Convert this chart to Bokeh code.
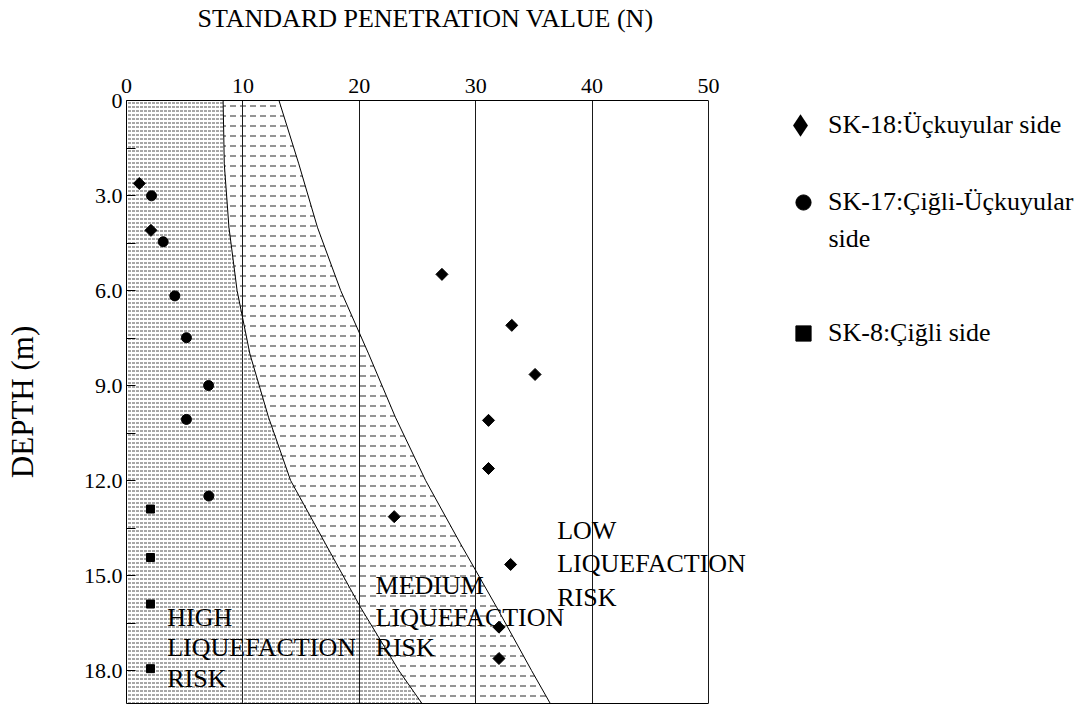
import numpy as np
from bokeh.plotting import figure
from bokeh.models import (Range1d, FixedTicker, Legend, LegendItem, Label,
                          LinearAxis, Title)
from bokeh.core.properties import value
from bokeh.embed import file_html
from bokeh.resources import INLINE

# ---------------- data ----------------
x_ticks = [0, 10, 20, 30, 40, 50]
grid_ticks = [10, 20, 30, 40, 50]
depth_ticks = [0, 3, 6, 9, 12, 15, 18]
depth_tick_labels = ["0", "3.0", "6.0", "9.0", "12.0", "15.0", "18.0"]
depth_minor_ticks = [1.5, 4.5, 7.5, 10.5, 13.5, 16.5]

# zone boundaries (N value at each depth)
boundary_depth = [0, 2, 4, 6, 8, 10, 12, 14, 16, 18, 19.1]
high_medium_N = [8.3, 8.4, 8.8, 9.5, 10.6, 12.2, 14.1, 17.1, 20.1, 23.4, 25.5]
medium_low_N = [13.1, 14.8, 16.4, 18.4, 20.8, 23.1, 25.7, 28.7, 31.8, 34.8, 36.5]

# SK-18 : Üçkuyular side (diamonds)
sk18_N = [1.1, 2.1, 27.1, 33.1, 35.1, 31.1, 31.1, 23.0, 33.0, 32.0, 32.0]
sk18_depth = [2.62, 4.1, 5.49, 7.1, 8.65, 10.1, 11.62, 13.14, 14.65, 16.63, 17.62]

# SK-17 : Çiğli-Üçkuyular side (circles)
sk17_N = [2.15, 3.15, 4.15, 5.15, 7.05, 5.15, 7.07]
sk17_depth = [3.01, 4.46, 6.17, 7.49, 9.0, 10.07, 12.49]

# SK-8 : Çiğli side (squares)
sk8_N = [2.06, 2.06, 2.06, 2.06]
sk8_depth = [12.9, 14.43, 15.9, 17.94]

zone_text = ["HIGH", "LIQUEFACTION", "RISK",
             "MEDIUM", "LIQUEFACTION", "RISK",
             "LOW", "LIQUEFACTION", "RISK"]
zone_N = [3.5, 3.5, 3.5, 21.4, 21.4, 21.4, 37.0, 37.0, 37.0]
zone_depth = [16.32, 17.26, 18.26, 15.31, 16.32, 17.26, 13.58, 14.62, 15.69]

legend_labels = ["SK-18:Üçkuyular side", "SK-17:Çiğli-Üçkuyular", "SK-8:Çiğli side"]
legend_wrap_text = "side"
title_text = "STANDARD PENETRATION VALUE (N)"

FONT = "Liberation Serif"

# ---------------- figure ----------------
# the frame spans to the right edge so that legend and labels are not clipped;
# the plot box itself is drawn by bounded axes and the N=50 grid line.
p = figure(width=1082, height=706, output_backend="svg", toolbar_location=None,
           x_range=Range1d(0, 82.13), y_range=Range1d(19.04, 0),
           x_axis_location="above",
           min_border_left=126, min_border_right=0,
           min_border_top=100, min_border_bottom=3)
p.outline_line_color = None
p.background_fill_color = "white"
p.border_fill_color = "white"

# title: an empty second line lifts the text to the top of the border area
p.title = Title(text=title_text + "\n", align="left", offset=71, standoff=0,
                text_font=FONT, text_font_size="26px", text_font_style="normal",
                text_color="black", text_line_height=1.45)

# top axis
xa = p.xaxis[0]
xa.bounds = (0, 50)
xa.ticker = FixedTicker(ticks=x_ticks, minor_ticks=[])
xa.major_tick_in = 0
xa.major_tick_out = 0
xa.minor_tick_line_color = None
xa.axis_line_color = "black"
xa.major_label_text_font = FONT
xa.major_label_text_font_size = "22px"
xa.major_label_text_color = "black"
xa.major_label_standoff = 8

# bottom border line
xb = LinearAxis(bounds=(0, 50), ticker=FixedTicker(ticks=[], minor_ticks=[]),
                major_tick_in=0, major_tick_out=0, minor_tick_in=0, minor_tick_out=0,
                major_label_standoff=0, axis_line_color="black")
p.add_layout(xb, "below")

# left axis
ya = p.yaxis[0]
ya.ticker = FixedTicker(ticks=depth_ticks, minor_ticks=depth_minor_ticks)
ya.major_label_overrides = {t: l for t, l in zip(depth_ticks, depth_tick_labels)}
ya.major_tick_in = 9
ya.major_tick_out = 0
ya.minor_tick_in = 9
ya.minor_tick_out = 0
ya.major_tick_line_color = "black"
ya.minor_tick_line_color = "black"
ya.axis_line_color = "black"
ya.major_label_text_font = FONT
ya.major_label_text_font_size = "22px"
ya.major_label_text_color = "black"
ya.major_label_standoff = 4
ya.axis_label = "DEPTH (m)"
ya.axis_label_text_font = FONT
ya.axis_label_text_font_size = "31px"
ya.axis_label_text_font_style = "normal"
ya.axis_label_text_color = "black"
ya.axis_label_standoff = 41

# grid (N=50 line is the right border of the box)
p.xgrid.ticker = FixedTicker(ticks=grid_ticks)
p.xgrid.grid_line_color = "#1a1a1a"
p.xgrid.grid_line_width = 1
p.ygrid.visible = False

# ---------------- hatched zones ----------------
p.harea(x1=0, x2=high_medium_N, y=boundary_depth, fill_color=None,
        hatch_pattern="horizontal_dash",
        hatch_scale=4, hatch_color="#4d4d4d", hatch_weight=1, hatch_alpha=1)
p.harea(x1=high_medium_N, x2=medium_low_N, y=boundary_depth, fill_color=None,
        hatch_pattern="horizontal_dash",
        hatch_scale=10, hatch_color="#2a2a2a", hatch_weight=1, hatch_alpha=1)

p.line(x=high_medium_N, y=boundary_depth, line_color="black", line_width=1)
p.line(x=medium_low_N, y=boundary_depth, line_color="black", line_width=1)

# zone labels
p.text(x=zone_N, y=zone_depth, text=zone_text, text_font=value(FONT),
       text_font_size="26px", text_color="black", text_align="left",
       text_baseline="alphabetic")

# ---------------- data points ----------------
r18 = p.scatter(x=sk18_N, y=sk18_depth, marker="square", angle=np.pi / 4,
                size=8.5, fill_color="black", line_color="black")
r17 = p.scatter(x=sk17_N, y=sk17_depth, marker="circle", size=10,
                fill_color="black", line_color="black")
r8 = p.scatter(x=sk8_N, y=sk8_depth, marker="square", size=8,
               fill_color="black", line_color="black")
# zero-size twin of SK-18 used only as its legend key (legend glyphs are unrotated)
r18_key = p.scatter(x=sk18_N, y=sk18_depth, marker="diamond", size=0,
                    fill_color="black", line_color=None)

# ---------------- legend ----------------
def add_legend(renderer, label, loc, box, standoff):
    leg = Legend(items=[LegendItem(label=label, renderers=[renderer])],
                 location=loc, orientation="vertical",
                 padding=0, margin=0, spacing=0,
                 glyph_width=box, glyph_height=box, label_height=box,
                 label_standoff=standoff, border_line_alpha=0,
                 background_fill_alpha=0,
                 label_text_font=FONT, label_text_font_size="26px",
                 label_text_color="black", label_text_baseline="middle")
    p.add_layout(leg)

add_legend(r18_key, legend_labels[0], (646, 550), 56, 0)
add_legend(r17, legend_labels[1], (658, 482), 38, 6)
add_legend(r8, legend_labels[2], (658, 351), 38, 6)

p.add_layout(Label(x=60.3, y=4.36, text=legend_wrap_text, text_font=FONT,
                   text_font_size="26px", text_color="black",
                   text_baseline="alphabetic"))

open("out.html", "w").write(file_html(p, INLINE))
